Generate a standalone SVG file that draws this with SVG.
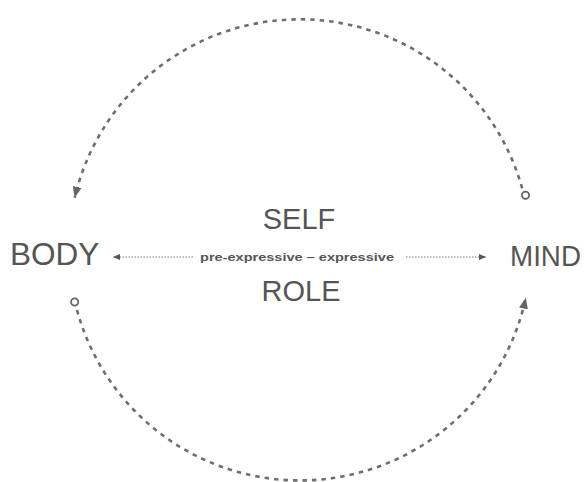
<svg xmlns="http://www.w3.org/2000/svg" width="588" height="482" viewBox="0 0 588 482">
<style>
.big{font-family:"Liberation Sans",Arial,sans-serif;fill:#555;}
.arc{fill:none;stroke:#6e6e6e;stroke-width:2.6;stroke-dasharray:4.5 5;}
.dot{fill:none;stroke:#7a7a7a;stroke-width:1;stroke-dasharray:1.5 1.5;}
.ring{fill:none;stroke:#666;stroke-width:1.8;}
</style>
<defs>
<marker id="bigHead" markerUnits="userSpaceOnUse" markerWidth="12" markerHeight="12" viewBox="0 0 12 12" refX="11" refY="6" orient="auto">
<path d="M0,1.5 L11,6 L0,10.5 Z" fill="#666"/>
</marker>
<marker id="smallHead" markerUnits="userSpaceOnUse" markerWidth="8" markerHeight="8" viewBox="0 0 8 8" refX="7" refY="4" orient="auto">
<path d="M0,1 L7,4 L0,7 Z" fill="#555"/>
</marker>
</defs>
<g id="connectors">
<path class="arc" d="M522.2,188.4 A231,231 0 0 0 74.7,197.8" marker-end="url(#bigHead)"/>
<circle class="ring" cx="525.5" cy="195.3" r="3.6"/>
<path class="arc" d="M77.0,310 A231,231 0 0 0 525.8,297.8" marker-end="url(#bigHead)"/>
<circle class="ring" cx="74.7" cy="302" r="3.6"/>
<path class="dot" d="M193,257 L113,257" marker-end="url(#smallHead)"/>
<path class="dot" d="M406,257 L486,257" marker-end="url(#smallHead)"/>
</g>
<g id="body"><text class="big" x="10" y="265" font-size="31.5">BODY</text></g>
<g id="mind"><text class="big" x="510" y="266" font-size="30" textLength="71" lengthAdjust="spacingAndGlyphs">MIND</text></g>
<g id="self"><text class="big" x="299" y="229" font-size="29" text-anchor="middle">SELF</text></g>
<g id="role"><text class="big" x="301" y="301" font-size="29" text-anchor="middle">ROLE</text></g>
<g id="label"><text x="200" y="260.5" font-family="Liberation Sans,Arial,sans-serif" font-size="11.5" font-weight="bold" fill="#555" textLength="194" lengthAdjust="spacingAndGlyphs">pre-expressive – expressive</text></g>
</svg>
